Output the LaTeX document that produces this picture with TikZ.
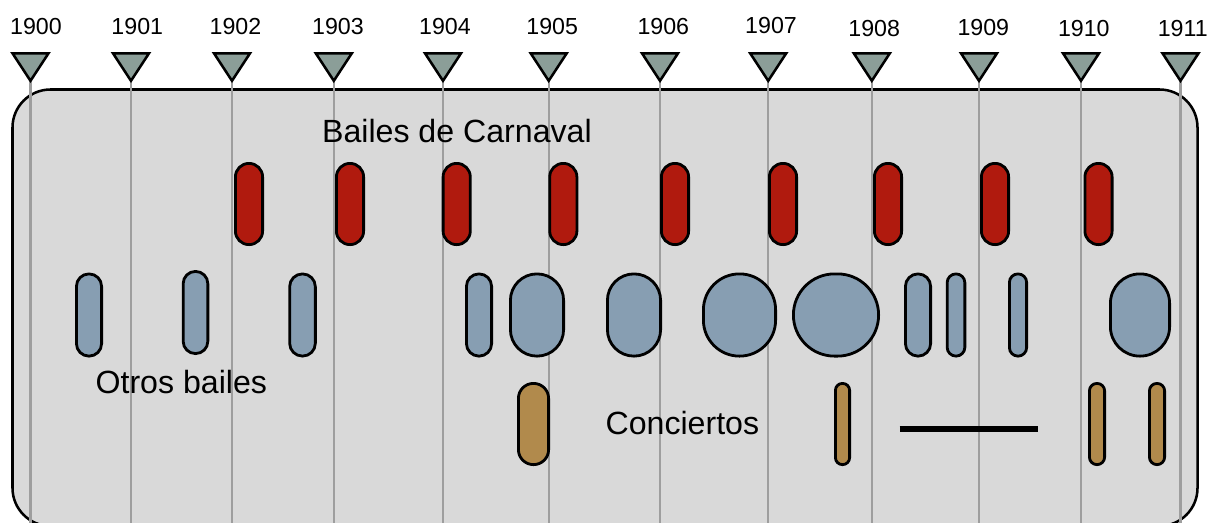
\documentclass[tikz,border=0pt]{standalone}
\usepackage{fontspec}
\setmainfont{Liberation Sans}
\definecolor{panelfill}{HTML}{D9D9D9}
\definecolor{trifill}{HTML}{8B9E98}
\definecolor{redfill}{HTML}{B01A0E}
\definecolor{bluefill}{HTML}{879EB2}
\definecolor{tanfill}{HTML}{B18A4C}
\definecolor{gridgrey}{HTML}{9E9E9E}
\begin{document}
\begin{tikzpicture}[x=0.75pt,y=-0.75pt,
  panelbox/.style={draw=black, line width=1.9pt, fill=panelfill, rounded corners=28.5pt},
  gridline/.style={draw=gridgrey, line width=1.6pt},
  tri/.style={draw=black, line width=1.9pt, fill=trifill, line join=miter},
  pill/.style n args={4}{draw=black, line width=2.1pt, fill=#1, inner sep=0pt, outer sep=0pt,
     minimum width={(#2-2.8)*0.75pt}, minimum height={(#3-2.8)*0.75pt}, rounded corners={#4*0.75pt}},
  yearlbl/.style={font=\fontsize{17.4pt}{20pt}\selectfont, anchor=base, inner sep=0pt},
  biglbl/.style={font=\fontsize{24.1pt}{28pt}\selectfont, anchor=base west, inner sep=0pt},
  thickbar/.style={draw=black, line width=4.1pt}
]
\useasboundingbox (0,0) rectangle (1209,522);
\clip (0,0) rectangle (1209,522);
% panel
\draw[panelbox] (12.5,89.5) rectangle (1197.5,526);
% year lines, triangles and labels
\foreach \yr/\lx/\tx/\ty in {1900/30.5/36/34.3, 1901/131/137.3/34.3, 1902/232/235.5/34.3,
  1903/333.8/338/34.3, 1904/443/445/34, 1905/548.7/552.2/34, 1906/660/663.3/34,
  1907/768.2/771/33.6, 1908/871.8/874.2/36.7, 1909/979/983.3/35.7, 1910/1081/1083.8/36.3,
  1911/1180.5/1182.7/36.3}{
  \coordinate (tip\yr) at (\lx,80.8);
  \coordinate (bot\yr) at (\lx,524);
  \draw[gridline] (tip\yr) -- (bot\yr);
  \draw[tri] (tip\yr) ++(-18,-27.5) -- ++(36,0) -- (tip\yr) -- cycle;
  \node[yearlbl] (lbl\yr) at (\tx,\ty) {\yr};
}
% Bailes de Carnaval
\foreach \n/\cx in {c1902/249, c1903/350, c1904/456.7, c1905/563.3, c1906/675,
  c1907/783, c1908/888, c1909/995, c1910/1098.5}{
  \node[pill={redfill}{30}{84}{13.5}] (\n) at (\cx,204) {};
}
% Otros bailes
\node[pill={bluefill}{28}{85}{12.5}] (o1) at (89,315) {};
\node[pill={bluefill}{27.5}{85}{12.3}] (o2) at (195.5,312.5) {};
\node[pill={bluefill}{28.5}{85}{12.8}] (o3) at (302.5,315) {};
\node[pill={bluefill}{28}{85}{12.5}] (o4) at (479,315) {};
\node[pill={bluefill}{56}{85}{26.5}] (o5) at (537,315) {};
\node[pill={bluefill}{56}{85}{26.5}] (o6) at (634,315) {};
\node[pill={bluefill}{75}{85}{36}] (o7) at (739.5,315) {};
\node[pill={bluefill}{88}{85}{41}] (o8) at (836,315) {};
\node[pill={bluefill}{28}{85}{12.5}] (o9) at (918,315) {};
\node[pill={bluefill}{20.5}{85}{8.8}] (o10) at (956,315) {};
\node[pill={bluefill}{20}{85}{8.5}] (o11) at (1018,315) {};
\node[pill={bluefill}{62}{85}{29.5}] (o12) at (1140,315) {};
% Conciertos
\node[pill={tanfill}{33}{84}{15}] (k1) at (533.5,424) {};
\node[pill={tanfill}{17}{84}{7}] (k2) at (842.5,424) {};
\node[pill={tanfill}{18}{84}{7.5}] (k3) at (1097,424) {};
\node[pill={tanfill}{18}{84}{7.5}] (k4) at (1157,424) {};
% black bar
\coordinate (barL) at (899.5,429);
\coordinate (barR) at (1038.3,429);
\draw[thickbar] (barL) -- (barR);
% labels
\node[biglbl] (tCarnaval) at (321.8,142.7) {Bailes de Carnaval};
\node[biglbl] (tOtros) at (95.3,393.3) {Otros bailes};
\node[biglbl] (tConc) at (605.3,434.3) {Conciertos};
\end{tikzpicture}
\end{document}
